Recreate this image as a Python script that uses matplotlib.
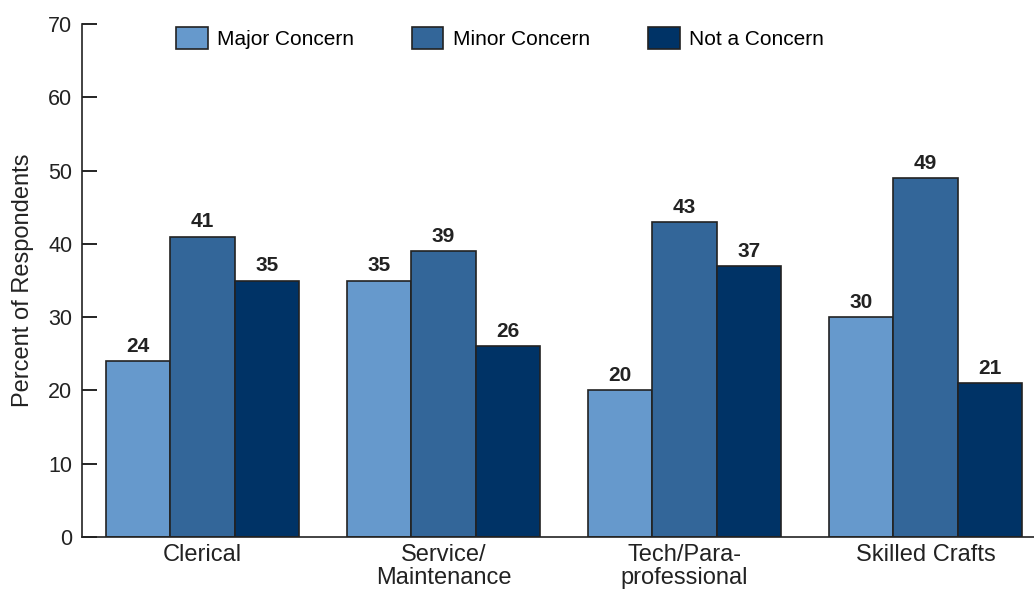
import numpy as np
import matplotlib
matplotlib.use("Agg")
import matplotlib.pyplot as plt

plt.rcParams['font.family'] = ['Liberation Sans', 'DejaVu Sans']

categories = ["Clerical", "Service/\nMaintenance", "Tech/Para-\nprofessional", "Skilled Crafts"]
series_names = ["Major Concern", "Minor Concern", "Not a Concern"]
major = [24, 35, 20, 30]
minor = [41, 39, 43, 49]
not_concern = [35, 26, 37, 21]
colors = ["#6699cc", "#336699", "#003366"]

fig = plt.figure(figsize=(10.34, 5.96), dpi=100)
ax = fig.add_axes([0.0793, 0.099, 0.9207, 0.8607])

x = np.arange(len(categories))
w = 0.268
handles = []
for i, vals in enumerate([major, minor, not_concern]):
    bars = ax.bar(x + (i - 1) * w, vals, width=w, color=colors[i],
                  edgecolor="#222222", linewidth=1.2, label=series_names[i])
    handles.append(bars)
    for b, v in zip(bars, vals):
        ax.text(b.get_x() + b.get_width() / 2, v + 0.7, str(v), ha="center",
                va="bottom", fontsize=15, fontweight="bold", color="#222222")

ax.set_xlim(-0.5, 3.45)
ax.set_ylim(0, 70)
ax.set_yticks(range(0, 71, 10))
ax.set_xticks(x)
ax.set_xticklabels(categories, fontsize=17, color="#222222", linespacing=1.05)
ax.tick_params(axis="x", length=0, pad=5)
ax.tick_params(axis="y", direction="in", length=11, width=1.2, labelsize=15.5,
               labelcolor="#222222", pad=7)
for s in ["top", "right"]:
    ax.spines[s].set_visible(False)
for s in ["left", "bottom"]:
    ax.spines[s].set_linewidth(1.2)
    ax.spines[s].set_color("#222222")
ax.set_ylabel("Percent of Respondents", fontsize=17, color="#222222", labelpad=10)

fig.legend(handles=handles, loc="center", bbox_to_anchor=(0.4836, 0.936), ncol=3,
           frameon=False, fontsize=15, handlelength=1.5, handleheight=1.25,
           handletextpad=0.45, columnspacing=2.8)

fig.savefig("out.png", dpi=100)
